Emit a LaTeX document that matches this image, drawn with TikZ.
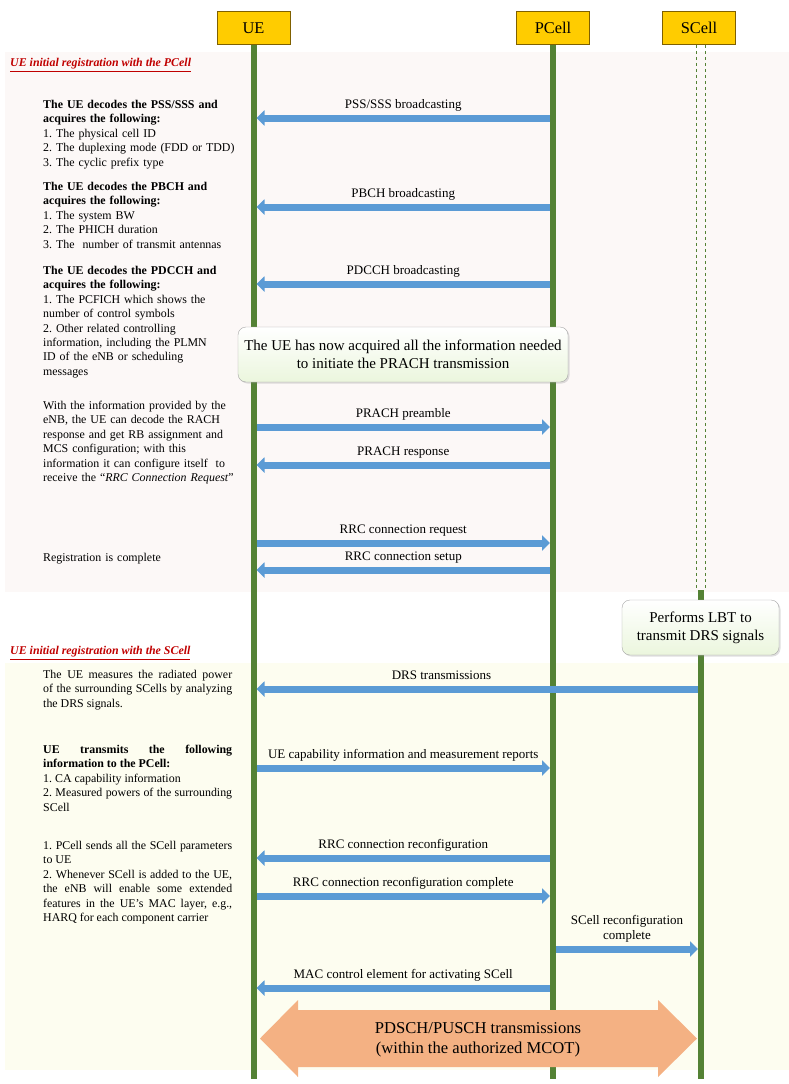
\documentclass[tikz,border=0pt]{standalone}
\usepackage{fontspec}
\setmainfont{Liberation Serif}
\usepackage[dvipsnames]{xcolor}
\usetikzlibrary{
  arrows.meta,
  shadows
}
\frenchspacing
\hyphenpenalty=10000
\exhyphenpenalty=10000

\definecolor{hdrgold}{HTML}{FFCC00}
\definecolor{hdredge}{HTML}{7F6000}
\definecolor{lifegreen}{HTML}{548235}
\definecolor{msgblue}{HTML}{5B9BD5}
\definecolor{notegreen}{HTML}{EBF6DD}
\definecolor{pinkbg}{HTML}{FCF8F7}
\definecolor{yellowbg}{HTML}{FDFDF0}
\definecolor{titlered}{HTML}{C00000}
\definecolor{mcotorange}{HTML}{F4B183}

\begin{document}
\begin{tikzpicture}[x=1pt, y=-1pt,
  entity/.style = {draw=hdredge, fill=hdrgold, line width=0.8pt,
    minimum width=73pt, minimum height=33pt, inner sep=0pt,
    font=\fontsize{16.4}{18}\selectfont},
  life/.style = {draw=lifegreen, line width=6pt},
  msg/.style = {draw=msgblue, line width=7pt,
    -{Triangle[length=8pt, width=15pt]}},
  lbl/.style = {font=\fontsize{13}{15}\selectfont, inner sep=0pt,
    text height=0.7em, text depth=0.22em, above=3.5pt},
  notebox/.style = {draw=black!35, rounded corners=8pt, align=center,
    top color=white, bottom color=notegreen,
    drop shadow={opacity=0.25, shadow xshift=1.5pt, shadow yshift=-1.5pt},
    font=\fontsize{15}{18}\selectfont, inner sep=0pt},
  steptext/.style = {anchor=north west, inner sep=0pt, text width=198pt,
    align=left, font=\fontsize{11.9}{14.4}\selectfont},
  jsttext/.style = {steptext, text width=189pt, align=justify},
  phase/.style = {anchor=west, inner sep=0pt, text=titlered,
    font=\fontsize{11.9}{14.4}\selectfont\bfseries\itshape}]
  \useasboundingbox (0,0) rectangle (789,1084);

  % shaded phases
  \fill[pinkbg] (5,52) rectangle (789,592);
  \fill[yellowbg] (5,663) rectangle (789,1070);

  % entities
  \node[entity] (ue) at (253.5,28) {UE};
  \node[entity] (pcell) at (553,28) {PCell};
  \node[entity] (scell) at (699,28) {SCell};
  \coordinate (bottom) at (0,1079);
  \coordinate (wake) at (0,590);

  % lifelines
  \draw[life] (ue.south) -- (ue.south |- bottom);
  \draw[life] (pcell.south) -- (pcell.south |- bottom);
  \draw[lifegreen, thin, dashed] ([xshift=-3pt]scell.south) -- ([xshift=-3pt]scell.south |- wake);
  \draw[lifegreen, thin, dashed] ([xshift=6pt]scell.south) -- ([xshift=6pt]scell.south |- wake);
  \draw[life] ([xshift=2pt]scell.south |- wake) -- ([xshift=2pt]scell.south |- bottom);

  % PCell registration
  \node[phase] (ph1) at (10,65) {\underline{UE initial registration with the PCell}};
  \node[steptext] (pss) at (43,100) {\textbf{The UE decodes the PSS/SSS and}\\ \textbf{acquires the following:}\\
    1. The physical cell ID\\ 2. The duplexing mode (FDD or TDD)\\ 3. The cyclic prefix type};
  \node[steptext] (pbch) at (43,182) {\textbf{The UE decodes the PBCH and}\\ \textbf{acquires the following:}\\
    1. The system BW\\ 2. The PHICH duration\\ 3. The~ number of transmit antennas};
  \node[steptext] (pdcch) at (43,266) {\textbf{The UE decodes the PDCCH and}\\ \textbf{acquires the following:}\\
    1. The PCFICH which shows the\\ number of control symbols\\
    2. Other related controlling\\ information, including the PLMN\\ ID of the eNB or scheduling\\ messages};
  \node[steptext] (prach) at (43,401) {With the information provided by the\\ eNB, the UE can decode the RACH\\
    response and get RB assignment and\\ MCS configuration; with this\\ information it can configure itself~ to\\
    receive the ``\textit{RRC Connection Request}''};
  \node[steptext] (done) at (43,553) {Registration is complete};

  \coordinate (m1) at (0,118);
  \coordinate (m2) at (0,207);
  \coordinate (m3) at (0,284);
  \coordinate (m4) at (0,427);
  \coordinate (m5) at (0,465);
  \coordinate (m6) at (0,543);
  \coordinate (m7) at (0,570);
  \draw[msg, shorten <=3pt, shorten >=3pt] (pcell.south |- m1) -- node[lbl] {PSS/SSS broadcasting} (ue.south |- m1);
  \draw[msg, shorten <=3pt, shorten >=3pt] (pcell.south |- m2) -- node[lbl] {PBCH broadcasting} (ue.south |- m2);
  \draw[msg, shorten <=3pt, shorten >=3pt] (pcell.south |- m3) -- node[lbl] {PDCCH broadcasting} (ue.south |- m3);

  \node[notebox, minimum width=330pt, minimum height=55pt] (ready) at (403,354.5)
    {The UE has now acquired all the information needed\\ to initiate the PRACH transmission};

  \draw[msg, shorten <=3pt, shorten >=3pt] (ue.south |- m4) -- node[lbl] {PRACH preamble} (pcell.south |- m4);
  \draw[msg, shorten <=3pt, shorten >=3pt] (pcell.south |- m5) -- node[lbl] {PRACH response} (ue.south |- m5);
  \draw[msg, shorten <=3pt, shorten >=3pt] (ue.south |- m6) -- node[lbl] {RRC connection request} (pcell.south |- m6);
  \draw[msg, shorten <=3pt, shorten >=3pt] (pcell.south |- m7) -- node[lbl] {RRC connection setup} (ue.south |- m7);

  % SCell registration
  \node[notebox, minimum width=157pt, minimum height=55pt] (lbt) at (700.5,627.5)
    {Performs LBT to\\ transmit DRS signals};
  \node[phase] (ph2) at (10,653) {\underline{UE initial registration with the SCell}};
  \node[jsttext] (drs) at (43,670) {The UE measures the radiated power\linebreak
    of the surrounding SCells by analyzing\linebreak the DRS signals.};
  \node[jsttext] (capa) at (43,745) {\textbf{UE transmits the following\linebreak information to the PCell:}\\
    1. CA capability information\\ 2. Measured powers of the surrounding\linebreak SCell};
  \node[jsttext] (reconf) at (43,841) {1. PCell sends all the SCell parameters\linebreak to UE\\
    2. Whenever SCell is added to the UE,\linebreak the eNB will enable some extended\linebreak
    features in the UE's MAC layer, e.g.,\linebreak HARQ for each component carrier};

  \coordinate (m8) at (0,689);
  \coordinate (m9) at (0,768);
  \coordinate (m10) at (0,858);
  \coordinate (m11) at (0,896);
  \coordinate (m12) at (0,949);
  \coordinate (m13) at (0,988);
  \draw[msg, shorten <=3pt, shorten >=3pt] ([xshift=2pt]scell.south |- m8) -- node[lbl, pos=0.58] {DRS transmissions} (ue.south |- m8);
  \draw[msg, shorten <=3pt, shorten >=3pt] (ue.south |- m9) -- node[lbl] {UE capability information and measurement reports} (pcell.south |- m9);
  \draw[msg, shorten <=3pt, shorten >=3pt] (pcell.south |- m10) -- node[lbl] {RRC connection reconfiguration} (ue.south |- m10);
  \draw[msg, shorten <=3pt, shorten >=3pt] (ue.south |- m11) -- node[lbl] {RRC connection reconfiguration complete} (pcell.south |- m11);
  \draw[msg, shorten <=3pt, shorten >=3pt] (pcell.south |- m12) -- node[lbl, align=center] {SCell reconfiguration\\ complete} ([xshift=2pt]scell.south |- m12);
  \draw[msg, shorten <=3pt, shorten >=3pt] (pcell.south |- m13) -- node[lbl] {MAC control element for activating SCell} (ue.south |- m13);

  % data exchange within MCOT
  \fill[mcotorange] (260,1038.5) -- (298,1000) -- (298,1010) -- (658,1010) -- (658,1000) -- (697,1038.5)
    -- (658,1077) -- (658,1067) -- (298,1067) -- (298,1077) -- cycle;
  \node[align=center, font=\fontsize{16.6}{20}\selectfont] (mcot) at (478,1040)
    {PDSCH/PUSCH transmissions\\ (within the authorized MCOT)};
\end{tikzpicture}
\end{document}
